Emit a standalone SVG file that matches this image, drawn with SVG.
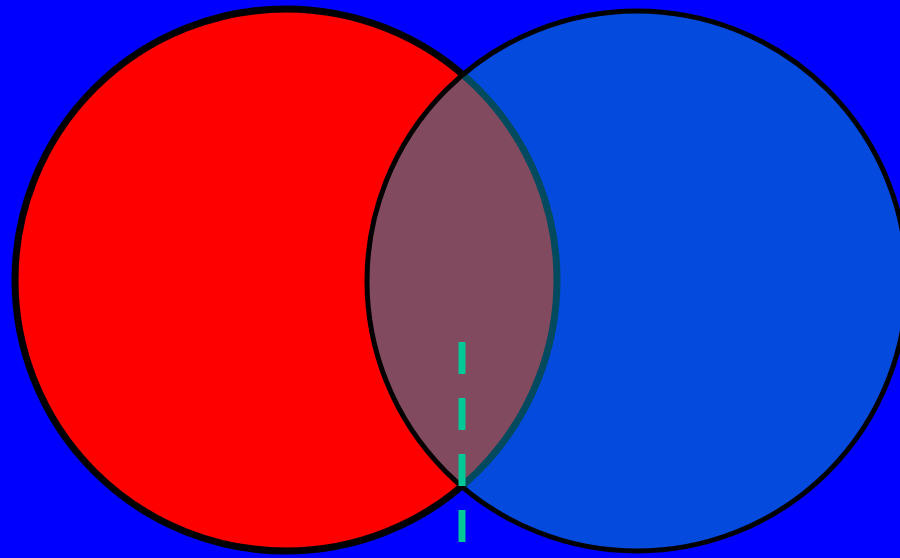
<svg xmlns="http://www.w3.org/2000/svg" width="900" height="558" viewBox="0 0 900 558">
<style>
.ring{stroke:#000000}
.dash{stroke:#00C896;stroke-width:7;stroke-dasharray:32 24;fill:none}
</style>
<rect x="0" y="0" width="900" height="558" fill="#0000FF"/>
<g id="circle-red"><circle class="ring" cx="286" cy="280" r="271" fill="#FF0000" stroke-width="7"/></g>
<g id="circle-blue"><circle class="ring" cx="637" cy="281" r="270" fill="#0694BB" fill-opacity="0.5" stroke-width="5"/></g>
<g id="connectors"><line class="dash" x1="462" y1="342" x2="462" y2="560"/></g>
</svg>
